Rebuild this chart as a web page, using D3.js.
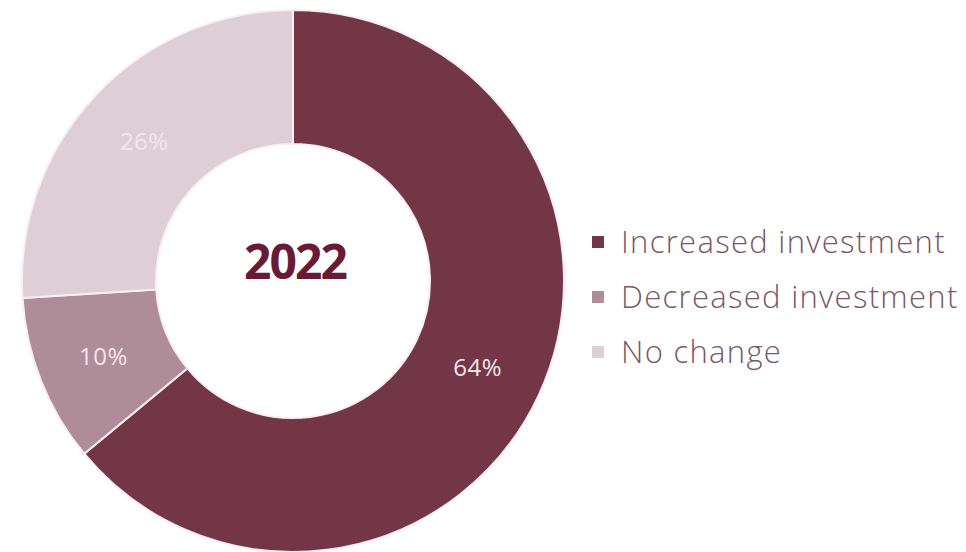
<!DOCTYPE html>
<html>
<head>
<meta charset="utf-8">
<script src="https://cdn.jsdelivr.net/npm/d3@7"></script>
<style>
	body { margin: 0; background: #fff; }
	svg { display: block; }
</style>
</head>
<body>
<svg id="chart" width="966" height="552"></svg>
<script>
	var categories = ["Increased investment", "Decreased investment", "No change"]
	var values = [64, 10, 26]
	var colors = ["#733647", "#ae8d98", "#ddcfd5"]
	var year = "2022"

	var data = categories.map(function (c, i) {
		return { name: c, value: values[i], color: colors[i] }
	})

	var svg = d3.select("#chart"),
		cx = 293,
		cy = 281,
		outer = 271,
		inner = 137;

	var pie = d3.pie()
		.sort(null)
		.value(function (d) { return d.value })

	var arc = d3.arc()
		.innerRadius(inner)
		.outerRadius(outer)

	var g = svg.append("g")
		.attr("transform", "translate(" + cx + "," + cy + ")")

	var arcs = pie(data)

	g.selectAll(".slice")
		.data(arcs)
		.enter()
		.append("path")
		.attr("class", "slice")
		.attr("d", arc)
		.style("fill", function (d) { return d.data.color })
		.style("stroke", "#fbeef2")
		.style("stroke-width", 2)

	g.selectAll(".label")
		.data(arcs)
		.enter()
		.append("text")
		.attr("class", "label")
		.attr("transform", function (d) { return "translate(" + arc.centroid(d) + ")" })
		.attr("text-anchor", "middle")
		.attr("dy", "0.35em")
		.style("font-family", "'Open Sans', sans-serif")
		.style("font-weight", 400)
		.style("font-size", "24px")
		.style("letter-spacing", "0.5px")
		.style("fill", "#f3e6eb")
		.text(function (d) { return d.value + "%" })

	g.append("text")
		.attr("x", 2)
		.attr("y", -2)
		.attr("text-anchor", "middle")
		.style("font-family", "'Open Sans', sans-serif")
		.style("font-weight", 700)
		.style("font-size", "48px")
		.style("letter-spacing", "-2px")
		.style("fill", "#691a35")
		.text(year)

	// legend
	var legend = svg.append("g")
		.attr("transform", "translate(592,241)")

	var y = d3.scaleBand()
		.domain(categories)
		.range([0, 165])

	var rows = legend.selectAll(".row")
		.data(data)
		.enter()
		.append("g")
		.attr("class", "row")
		.attr("transform", function (d) { return "translate(0," + (y(d.name) + 1) + ")" })

	rows.append("rect")
		.attr("x", 0)
		.attr("y", -6)
		.attr("width", 12)
		.attr("height", 12)
		.style("fill", function (d) { return d.color })

	rows.append("text")
		.attr("x", 29)
		.attr("dy", "0.36em")
		.style("font-family", "'Open Sans', sans-serif")
		.style("font-weight", 300)
		.style("font-size", "31px")
		.style("letter-spacing", "1.3px")
		.style("fill", "#7b5766")
		.text(function (d) { return d.name })
</script>
</body>
</html>
